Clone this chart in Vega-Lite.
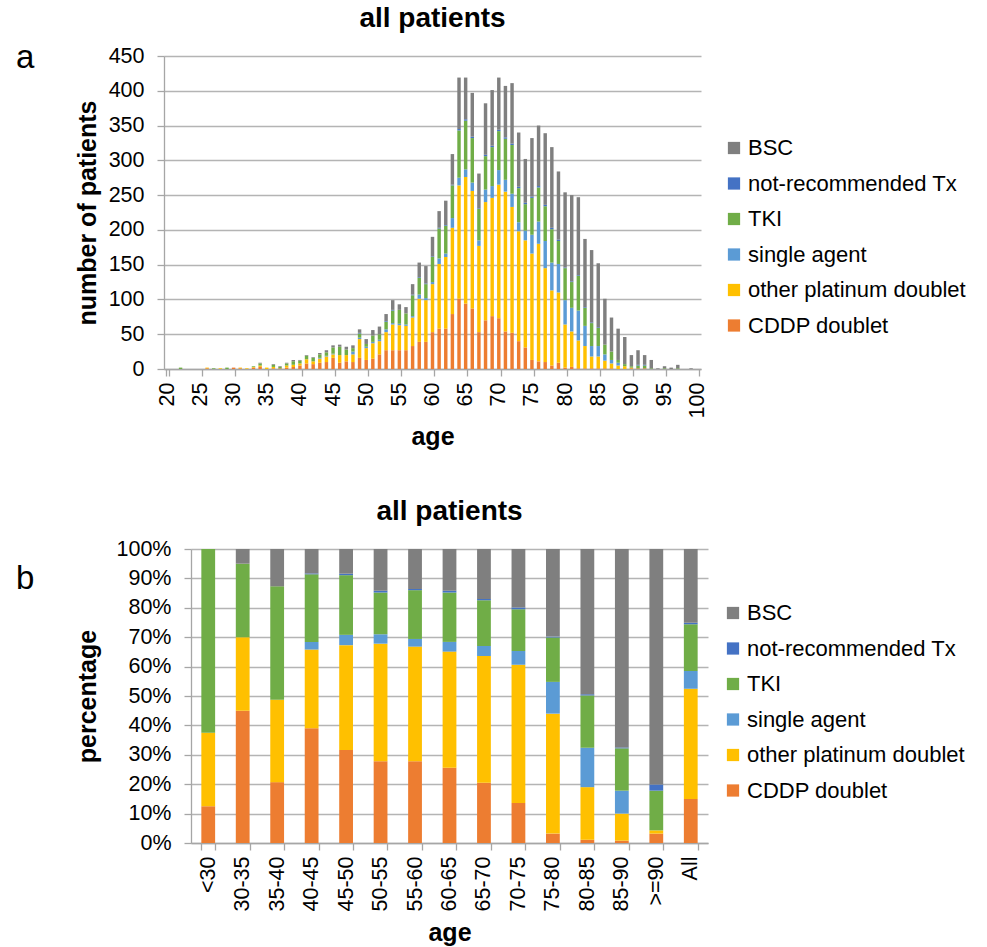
{
  "$schema": "https://vega.github.io/schema/vega-lite/v6.json",
  "padding": {"left": 16, "top": 5, "right": 5, "bottom": 5},
  "config": {
    "font": "Liberation Sans",
    "view": {"stroke": null},
    "axis": {
      "labelFont": "Liberation Sans", "labelFontSize": 21.5, "labelColor": "#000",
      "titleFont": "Liberation Sans", "titleFontSize": 25, "titleFontWeight": "bold", "titleColor": "#000",
      "domainColor": "#a6a6a6", "tickColor": "#a6a6a6", "gridColor": "#b4b4b4",
      "tickSize": 7, "domainWidth": 1.3, "gridWidth": 1.3, "tickWidth": 1.3
    },
    "title": {"font": "Liberation Sans", "fontSize": 28, "fontWeight": "bold", "color": "#000"},
    "legend": {"labelFont": "Liberation Sans", "labelFontSize": 22, "labelColor": "#000", "labelLimit": 400}
  },
  "spacing": 48,
  "resolve": {"scale": {"color": "independent"}, "legend": {"color": "independent"}},
  "vconcat": [
    {
      "title": {"text": "a", "fontSize": 33, "fontWeight": "normal", "anchor": "start", "dx": 0, "dy": 74},
      "spacing": 0,
      "resolve": {"scale": {"color": "independent"}, "legend": {"color": "independent"}},
      "hconcat": [
        {"width": 59, "height": 10, "data": {"values": []}, "mark": {"type": "point"}, "encoding": {}},
        {
          "title": {"text": "all patients", "anchor": "middle", "frame": "group", "offset": 12},
          "width": 537,
          "height": 313,
          "data": {"values": [
            {"age": 20, "CDDP doublet": 0, "other platinum doublet": 0, "single agent": 0, "TKI": 0, "not-recommended Tx": 0, "BSC": 0},
            {"age": 21, "CDDP doublet": 0, "other platinum doublet": 0, "single agent": 0, "TKI": 0, "not-recommended Tx": 0, "BSC": 0},
            {"age": 22, "CDDP doublet": 0, "other platinum doublet": 0, "single agent": 0, "TKI": 2, "not-recommended Tx": 0, "BSC": 0},
            {"age": 23, "CDDP doublet": 0, "other platinum doublet": 0, "single agent": 0, "TKI": 0, "not-recommended Tx": 0, "BSC": 0},
            {"age": 24, "CDDP doublet": 0, "other platinum doublet": 0, "single agent": 0, "TKI": 0, "not-recommended Tx": 0, "BSC": 0},
            {"age": 25, "CDDP doublet": 0, "other platinum doublet": 0, "single agent": 0, "TKI": 0, "not-recommended Tx": 0, "BSC": 0},
            {"age": 26, "CDDP doublet": 1, "other platinum doublet": 1, "single agent": 0, "TKI": 0, "not-recommended Tx": 0, "BSC": 0},
            {"age": 27, "CDDP doublet": 0, "other platinum doublet": 0, "single agent": 0, "TKI": 1, "not-recommended Tx": 0, "BSC": 0},
            {"age": 28, "CDDP doublet": 0, "other platinum doublet": 1, "single agent": 0, "TKI": 0, "not-recommended Tx": 0, "BSC": 0},
            {"age": 29, "CDDP doublet": 0, "other platinum doublet": 0, "single agent": 0, "TKI": 2, "not-recommended Tx": 0, "BSC": 0},
            {"age": 30, "CDDP doublet": 2, "other platinum doublet": 0, "single agent": 0, "TKI": 0, "not-recommended Tx": 0, "BSC": 0},
            {"age": 31, "CDDP doublet": 1, "other platinum doublet": 1, "single agent": 0, "TKI": 0, "not-recommended Tx": 0, "BSC": 0},
            {"age": 32, "CDDP doublet": 0, "other platinum doublet": 1, "single agent": 0, "TKI": 0, "not-recommended Tx": 0, "BSC": 0},
            {"age": 33, "CDDP doublet": 2, "other platinum doublet": 1, "single agent": 0, "TKI": 1, "not-recommended Tx": 0, "BSC": 0},
            {"age": 34, "CDDP doublet": 3, "other platinum doublet": 2, "single agent": 0, "TKI": 3, "not-recommended Tx": 0, "BSC": 1},
            {"age": 35, "CDDP doublet": 0, "other platinum doublet": 2, "single agent": 0, "TKI": 0, "not-recommended Tx": 0, "BSC": 0},
            {"age": 36, "CDDP doublet": 1, "other platinum doublet": 2, "single agent": 0, "TKI": 3, "not-recommended Tx": 0, "BSC": 1},
            {"age": 37, "CDDP doublet": 1, "other platinum doublet": 0, "single agent": 0, "TKI": 2, "not-recommended Tx": 0, "BSC": 1},
            {"age": 38, "CDDP doublet": 2, "other platinum doublet": 3, "single agent": 0, "TKI": 3, "not-recommended Tx": 0, "BSC": 1},
            {"age": 39, "CDDP doublet": 3, "other platinum doublet": 3, "single agent": 0, "TKI": 5, "not-recommended Tx": 0, "BSC": 2},
            {"age": 40, "CDDP doublet": 5, "other platinum doublet": 3, "single agent": 0, "TKI": 4, "not-recommended Tx": 0, "BSC": 1},
            {"age": 41, "CDDP doublet": 8, "other platinum doublet": 6, "single agent": 0, "TKI": 5, "not-recommended Tx": 0, "BSC": 1},
            {"age": 42, "CDDP doublet": 7, "other platinum doublet": 4, "single agent": 0, "TKI": 5, "not-recommended Tx": 0, "BSC": 1},
            {"age": 43, "CDDP doublet": 9, "other platinum doublet": 6, "single agent": 1, "TKI": 5, "not-recommended Tx": 0, "BSC": 2},
            {"age": 44, "CDDP doublet": 10, "other platinum doublet": 8, "single agent": 1, "TKI": 5, "not-recommended Tx": 0, "BSC": 3},
            {"age": 45, "CDDP doublet": 16, "other platinum doublet": 5, "single agent": 1, "TKI": 9, "not-recommended Tx": 0, "BSC": 3},
            {"age": 46, "CDDP doublet": 9, "other platinum doublet": 11, "single agent": 0, "TKI": 12, "not-recommended Tx": 0, "BSC": 3},
            {"age": 47, "CDDP doublet": 11, "other platinum doublet": 9, "single agent": 0, "TKI": 8, "not-recommended Tx": 0, "BSC": 4},
            {"age": 48, "CDDP doublet": 10, "other platinum doublet": 11, "single agent": 4, "TKI": 5, "not-recommended Tx": 0, "BSC": 4},
            {"age": 49, "CDDP doublet": 16, "other platinum doublet": 27, "single agent": 2, "TKI": 6, "not-recommended Tx": 1, "BSC": 5},
            {"age": 50, "CDDP doublet": 13, "other platinum doublet": 17, "single agent": 2, "TKI": 4, "not-recommended Tx": 0, "BSC": 7},
            {"age": 51, "CDDP doublet": 15, "other platinum doublet": 22, "single agent": 2, "TKI": 9, "not-recommended Tx": 0, "BSC": 8},
            {"age": 52, "CDDP doublet": 21, "other platinum doublet": 19, "single agent": 2, "TKI": 8, "not-recommended Tx": 0, "BSC": 11},
            {"age": 53, "CDDP doublet": 27, "other platinum doublet": 26, "single agent": 4, "TKI": 11, "not-recommended Tx": 1, "BSC": 10},
            {"age": 54, "CDDP doublet": 27, "other platinum doublet": 37, "single agent": 2, "TKI": 18, "not-recommended Tx": 1, "BSC": 14},
            {"age": 55, "CDDP doublet": 27, "other platinum doublet": 36, "single agent": 2, "TKI": 20, "not-recommended Tx": 0, "BSC": 8},
            {"age": 56, "CDDP doublet": 27, "other platinum doublet": 35, "single agent": 2, "TKI": 16, "not-recommended Tx": 0, "BSC": 9},
            {"age": 57, "CDDP doublet": 33, "other platinum doublet": 41, "single agent": 2, "TKI": 30, "not-recommended Tx": 1, "BSC": 15},
            {"age": 58, "CDDP doublet": 39, "other platinum doublet": 62, "single agent": 6, "TKI": 24, "not-recommended Tx": 1, "BSC": 21},
            {"age": 59, "CDDP doublet": 39, "other platinum doublet": 60, "single agent": 3, "TKI": 20, "not-recommended Tx": 1, "BSC": 25},
            {"age": 60, "CDDP doublet": 53, "other platinum doublet": 69, "single agent": 3, "TKI": 36, "not-recommended Tx": 1, "BSC": 28},
            {"age": 61, "CDDP doublet": 58, "other platinum doublet": 93, "single agent": 8, "TKI": 43, "not-recommended Tx": 1, "BSC": 24},
            {"age": 62, "CDDP doublet": 58, "other platinum doublet": 103, "single agent": 5, "TKI": 40, "not-recommended Tx": 1, "BSC": 35},
            {"age": 63, "CDDP doublet": 79, "other platinum doublet": 124, "single agent": 14, "TKI": 47, "not-recommended Tx": 1, "BSC": 44},
            {"age": 64, "CDDP doublet": 101, "other platinum doublet": 163, "single agent": 11, "TKI": 68, "not-recommended Tx": 2, "BSC": 74},
            {"age": 65, "CDDP doublet": 94, "other platinum doublet": 182, "single agent": 11, "TKI": 70, "not-recommended Tx": 2, "BSC": 60},
            {"age": 66, "CDDP doublet": 87, "other platinum doublet": 169, "single agent": 12, "TKI": 64, "not-recommended Tx": 2, "BSC": 63},
            {"age": 67, "CDDP doublet": 53, "other platinum doublet": 124, "single agent": 8, "TKI": 45, "not-recommended Tx": 1, "BSC": 50},
            {"age": 68, "CDDP doublet": 70, "other platinum doublet": 170, "single agent": 18, "TKI": 48, "not-recommended Tx": 2, "BSC": 74},
            {"age": 69, "CDDP doublet": 76, "other platinum doublet": 170, "single agent": 17, "TKI": 56, "not-recommended Tx": 2, "BSC": 80},
            {"age": 70, "CDDP doublet": 73, "other platinum doublet": 192, "single agent": 21, "TKI": 56, "not-recommended Tx": 2, "BSC": 75},
            {"age": 71, "CDDP doublet": 54, "other platinum doublet": 201, "single agent": 17, "TKI": 59, "not-recommended Tx": 2, "BSC": 74},
            {"age": 72, "CDDP doublet": 52, "other platinum doublet": 181, "single agent": 19, "TKI": 70, "not-recommended Tx": 2, "BSC": 87},
            {"age": 73, "CDDP doublet": 40, "other platinum doublet": 158, "single agent": 13, "TKI": 49, "not-recommended Tx": 2, "BSC": 78},
            {"age": 74, "CDDP doublet": 31, "other platinum doublet": 154, "single agent": 14, "TKI": 38, "not-recommended Tx": 2, "BSC": 63},
            {"age": 75, "CDDP doublet": 13, "other platinum doublet": 153, "single agent": 27, "TKI": 53, "not-recommended Tx": 2, "BSC": 84},
            {"age": 76, "CDDP doublet": 11, "other platinum doublet": 169, "single agent": 32, "TKI": 49, "not-recommended Tx": 2, "BSC": 87},
            {"age": 77, "CDDP doublet": 10, "other platinum doublet": 135, "single agent": 39, "TKI": 50, "not-recommended Tx": 2, "BSC": 103},
            {"age": 78, "CDDP doublet": 5, "other platinum doublet": 108, "single agent": 40, "TKI": 48, "not-recommended Tx": 2, "BSC": 116},
            {"age": 79, "CDDP doublet": 9, "other platinum doublet": 101, "single agent": 41, "TKI": 33, "not-recommended Tx": 2, "BSC": 98},
            {"age": 80, "CDDP doublet": 2, "other platinum doublet": 62, "single agent": 35, "TKI": 46, "not-recommended Tx": 1, "BSC": 108},
            {"age": 81, "CDDP doublet": 3, "other platinum doublet": 51, "single agent": 34, "TKI": 37, "not-recommended Tx": 1, "BSC": 124},
            {"age": 82, "CDDP doublet": 1, "other platinum doublet": 40, "single agent": 43, "TKI": 50, "not-recommended Tx": 1, "BSC": 112},
            {"age": 83, "CDDP doublet": 1, "other platinum doublet": 32, "single agent": 29, "TKI": 26, "not-recommended Tx": 1, "BSC": 98},
            {"age": 84, "CDDP doublet": 1, "other platinum doublet": 17, "single agent": 15, "TKI": 33, "not-recommended Tx": 1, "BSC": 104},
            {"age": 85, "CDDP doublet": 1, "other platinum doublet": 17, "single agent": 15, "TKI": 26, "not-recommended Tx": 1, "BSC": 92},
            {"age": 86, "CDDP doublet": 1, "other platinum doublet": 11, "single agent": 9, "TKI": 14, "not-recommended Tx": 0, "BSC": 66},
            {"age": 87, "CDDP doublet": 1, "other platinum doublet": 7, "single agent": 5, "TKI": 12, "not-recommended Tx": 0, "BSC": 49},
            {"age": 88, "CDDP doublet": 0, "other platinum doublet": 5, "single agent": 4, "TKI": 4, "not-recommended Tx": 0, "BSC": 45},
            {"age": 89, "CDDP doublet": 0, "other platinum doublet": 4, "single agent": 0, "TKI": 3, "not-recommended Tx": 0, "BSC": 39},
            {"age": 90, "CDDP doublet": 1, "other platinum doublet": 1, "single agent": 0, "TKI": 2, "not-recommended Tx": 0, "BSC": 16},
            {"age": 91, "CDDP doublet": 1, "other platinum doublet": 0, "single agent": 0, "TKI": 4, "not-recommended Tx": 1, "BSC": 21},
            {"age": 92, "CDDP doublet": 1, "other platinum doublet": 0, "single agent": 0, "TKI": 4, "not-recommended Tx": 1, "BSC": 14},
            {"age": 93, "CDDP doublet": 0, "other platinum doublet": 0, "single agent": 0, "TKI": 1, "not-recommended Tx": 0, "BSC": 12},
            {"age": 94, "CDDP doublet": 0, "other platinum doublet": 0, "single agent": 0, "TKI": 0, "not-recommended Tx": 0, "BSC": 1},
            {"age": 95, "CDDP doublet": 0, "other platinum doublet": 0, "single agent": 0, "TKI": 1, "not-recommended Tx": 0, "BSC": 3},
            {"age": 96, "CDDP doublet": 0, "other platinum doublet": 0, "single agent": 0, "TKI": 0, "not-recommended Tx": 0, "BSC": 2},
            {"age": 97, "CDDP doublet": 0, "other platinum doublet": 0, "single agent": 0, "TKI": 1, "not-recommended Tx": 0, "BSC": 5},
            {"age": 98, "CDDP doublet": 0, "other platinum doublet": 0, "single agent": 0, "TKI": 0, "not-recommended Tx": 0, "BSC": 0},
            {"age": 99, "CDDP doublet": 0, "other platinum doublet": 0, "single agent": 0, "TKI": 0, "not-recommended Tx": 0, "BSC": 1},
            {"age": 100, "CDDP doublet": 0, "other platinum doublet": 0, "single agent": 0, "TKI": 0, "not-recommended Tx": 0, "BSC": 0}
          ]},
          "transform": [
            {"fold": ["CDDP doublet", "other platinum doublet", "single agent", "TKI", "not-recommended Tx", "BSC"], "as": ["treatment", "patients"]},
            {"calculate": "indexof(['CDDP doublet', 'other platinum doublet', 'single agent', 'TKI', 'not-recommended Tx', 'BSC'], datum.treatment)", "as": "stackRank"}
          ],
          "mark": {"type": "bar"},
          "encoding": {
            "x": {
              "field": "age", "type": "ordinal",
              "scale": {"paddingInner": 0.48, "paddingOuter": 0.24},
              "axis": {
                "title": "age", "values": [20, 25, 30, 35, 40, 45, 50, 55, 60, 65, 70, 75, 80, 85, 90, 95, 100],
                "tickBand": "extent", "labelAngle": -90, "grid": false, "labelPadding": 6, "titlePadding": 7
              }
            },
            "y": {
              "field": "patients", "type": "quantitative", "stack": "zero",
              "scale": {"domain": [0, 450], "nice": false},
              "axis": {"title": "number of patients", "values": [0, 50, 100, 150, 200, 250, 300, 350, 400, 450], "grid": true, "labelPadding": 13, "titlePadding": 8}
            },
            "color": {
              "field": "treatment", "type": "nominal",
              "scale": {
                "domain": ["BSC", "not-recommended Tx", "TKI", "single agent", "other platinum doublet", "CDDP doublet"],
                "range": ["#7f7f7f", "#4472c4", "#70ad47", "#5b9bd5", "#ffc000", "#ed7d31"]
              },
              "legend": {"title": null, "orient": "none", "legendX": 559, "legendY": 81, "symbolType": "square", "symbolSize": 150, "symbolStrokeWidth": 0, "rowPadding": 13.5, "labelOffset": 3}
            },
            "order": {"field": "stackRank", "type": "quantitative"}
          }
        }
      ]
    },
    {
      "title": {"text": "b", "fontSize": 33, "fontWeight": "normal", "anchor": "start", "dx": 0, "dy": 102},
      "spacing": 0,
      "resolve": {"scale": {"color": "independent"}, "legend": {"color": "independent"}},
      "hconcat": [
        {"width": 59, "height": 10, "data": {"values": []}, "mark": {"type": "point"}, "encoding": {}},
        {
          "title": {"text": "all patients", "anchor": "middle", "frame": "group", "offset": 12},
          "width": 517,
          "height": 294,
          "data": {"values": [
            {"group": "<30", "CDDP doublet": 12.5, "other platinum doublet": 25, "single agent": 0, "TKI": 62.5, "not-recommended Tx": 0, "BSC": 0},
            {"group": "30-35", "CDDP doublet": 45, "other platinum doublet": 25, "single agent": 0, "TKI": 25, "not-recommended Tx": 0, "BSC": 5},
            {"group": "35-40", "CDDP doublet": 20.7, "other platinum doublet": 28, "single agent": 0, "TKI": 38.6, "not-recommended Tx": 0, "BSC": 12.7},
            {"group": "40-45", "CDDP doublet": 39, "other platinum doublet": 26.8, "single agent": 2.6, "TKI": 23, "not-recommended Tx": 0.3, "BSC": 8.3},
            {"group": "45-50", "CDDP doublet": 31.6, "other platinum doublet": 35.7, "single agent": 3.5, "TKI": 20.3, "not-recommended Tx": 0.5, "BSC": 8.4},
            {"group": "50-55", "CDDP doublet": 27.8, "other platinum doublet": 40, "single agent": 3.2, "TKI": 14.2, "not-recommended Tx": 0.6, "BSC": 14.2},
            {"group": "55-60", "CDDP doublet": 27.8, "other platinum doublet": 39, "single agent": 2.6, "TKI": 16.6, "not-recommended Tx": 0.4, "BSC": 13.6},
            {"group": "60-65", "CDDP doublet": 25.6, "other platinum doublet": 39.5, "single agent": 3.3, "TKI": 16.8, "not-recommended Tx": 0.6, "BSC": 14.2},
            {"group": "65-70", "CDDP doublet": 20.5, "other platinum doublet": 43.1, "single agent": 3.4, "TKI": 15.6, "not-recommended Tx": 0.4, "BSC": 17},
            {"group": "70-75", "CDDP doublet": 13.6, "other platinum doublet": 47, "single agent": 4.7, "TKI": 14.2, "not-recommended Tx": 0.6, "BSC": 19.9},
            {"group": "75-80", "CDDP doublet": 3.2, "other platinum doublet": 40.8, "single agent": 10.8, "TKI": 15.1, "not-recommended Tx": 0.3, "BSC": 29.8},
            {"group": "80-85", "CDDP doublet": 1.1, "other platinum doublet": 17.9, "single agent": 13.4, "TKI": 17.8, "not-recommended Tx": 0.4, "BSC": 49.4},
            {"group": "85-90", "CDDP doublet": 0.8, "other platinum doublet": 9.2, "single agent": 7.8, "TKI": 14.4, "not-recommended Tx": 0.3, "BSC": 67.5},
            {"group": ">=90", "CDDP doublet": 3.2, "other platinum doublet": 1.1, "single agent": 0, "TKI": 13.5, "not-recommended Tx": 2.1, "BSC": 80.1},
            {"group": "All", "CDDP doublet": 15, "other platinum doublet": 37.5, "single agent": 6, "TKI": 15.9, "not-recommended Tx": 0.5, "BSC": 25.1}
          ]},
          "transform": [
            {"fold": ["CDDP doublet", "other platinum doublet", "single agent", "TKI", "not-recommended Tx", "BSC"], "as": ["treatment", "share"]},
            {"calculate": "indexof(['CDDP doublet', 'other platinum doublet', 'single agent', 'TKI', 'not-recommended Tx', 'BSC'], datum.treatment)", "as": "stackRank"}
          ],
          "mark": {"type": "bar"},
          "encoding": {
            "x": {
              "field": "group", "type": "ordinal", "sort": null,
              "scale": {"paddingInner": 0.6, "paddingOuter": 0.3},
              "axis": {"title": "age", "tickBand": "extent", "labelAngle": -90, "grid": false, "labelPadding": 6, "titlePadding": 10}
            },
            "y": {
              "field": "share", "type": "quantitative", "stack": "normalize",
              "scale": {"domain": [0, 1], "nice": false},
              "axis": {"title": "percentage", "format": ".0%", "values": [0, 0.1, 0.2, 0.3, 0.4, 0.5, 0.6, 0.7, 0.8, 0.9, 1], "grid": true, "labelPadding": 13, "titlePadding": 16}
            },
            "color": {
              "field": "treatment", "type": "nominal",
              "scale": {
                "domain": ["BSC", "not-recommended Tx", "TKI", "single agent", "other platinum doublet", "CDDP doublet"],
                "range": ["#7f7f7f", "#4472c4", "#70ad47", "#5b9bd5", "#ffc000", "#ed7d31"]
              },
              "legend": {"title": null, "orient": "none", "legendX": 531, "legendY": 53, "symbolType": "square", "symbolSize": 150, "symbolStrokeWidth": 0, "rowPadding": 13.5, "labelOffset": 3}
            },
            "order": {"field": "stackRank", "type": "quantitative"}
          }
        }
      ]
    }
  ]
}
